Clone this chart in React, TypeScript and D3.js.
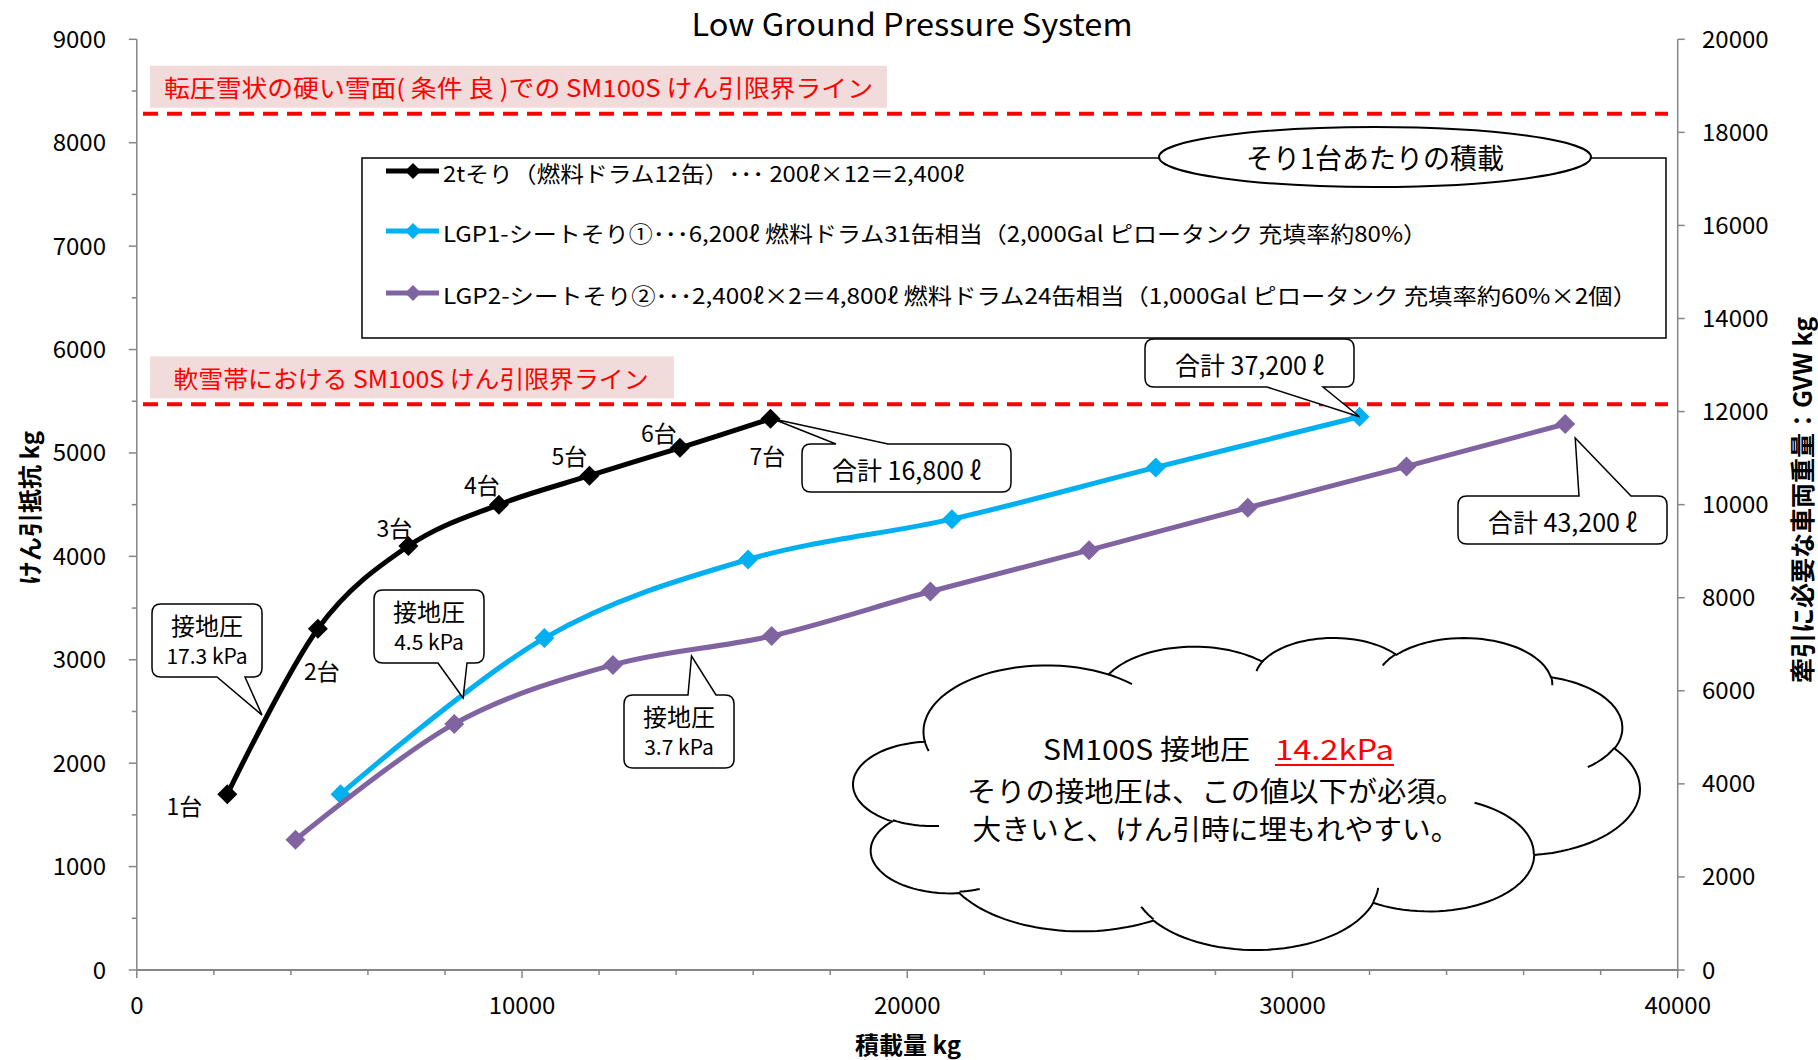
import React from "react";
import * as d3 from "d3";

// ---------- data ----------
const X_TICKS = [0, 10000, 20000, 30000, 40000];
const Y_TICKS = [0, 1000, 2000, 3000, 4000, 5000, 6000, 7000, 8000, 9000];
const Y2_TICKS = [0, 2000, 4000, 6000, 8000, 10000, 12000, 14000, 16000, 18000, 20000];

const sled2tX = [2350, 4700, 7050, 9400, 11750, 14100, 16450];
const sled2tY = [1700, 3300, 4100, 4500, 4780, 5050, 5330];
const sled2tLabels = ["1台", "2台", "3台", "4台", "5台", "6台", "7台"];

const lgp1X = [5290, 10580, 15870, 21160, 26450, 31740];
const lgp1Y = [1700, 3210, 3970, 4360, 4860, 5350];

const lgp2X = [4120, 8240, 12360, 16480, 20600, 24720, 28840, 32960, 37080];
const lgp2Y = [1260, 2380, 2950, 3230, 3660, 4060, 4470, 4870, 5280];

const seriesNames = [
  "2tそり（燃料ドラム12缶）･･･ 200ℓ×12＝2,400ℓ",
  "LGP1-シートそり①･･･6,200ℓ  燃料ドラム31缶相当（2,000Gal ピロータンク 充填率約80%）",
  "LGP2-シートそり②･･･2,400ℓ×2＝4,800ℓ  燃料ドラム24缶相当（1,000Gal ピロータンク 充填率約60%×2個）",
];
const seriesColors = ["#000000", "#00B0F0", "#8064A2"];

const limitValues = [8280, 5470];
const limitLabels = [
  "転圧雪状の硬い雪面( 条件 良 )での SM100S けん引限界ライン",
  "軟雪帯における SM100S けん引限界ライン",
];

const pressureLabels = ["17.3 kPa", "4.5 kPa", "3.7 kPa"];
const pressureTips = [
  [3250, 2465],
  [8470, 2630],
  [14400, 3036],
];
const totalLabels = ["合計 16,800 ℓ", "合計 37,200 ℓ", "合計 43,200 ℓ"];

const cloudLines = ["SM100S 接地圧", "14.2kPa", "そりの接地圧は、この値以下が必須。", "大きいと、けん引時に埋もれやすい。"];

// ---------- styles / layout ----------
const FONT = "'Noto Sans CJK JP', 'Noto Sans', sans-serif";
const PLOT = { left: 136.8, right: 1677.7, top: 39.3, bottom: 970 };
const labelOffsets = [
  [-43, 21],
  [4, 51],
  [-14, -9],
  [-17, -11],
  [-20, -11],
  [-21, -6],
  [-3, 46],
];

// Excel cloud preset geometry (43200 x 43200 path space)
const CLOUD_START = [3900, 14370];
const CLOUD_ARCS = [
  [6753, 9190, -11429249, 7426832],
  [5333, 7267, -8646143, 5396714],
  [4365, 5945, -8748475, 5983381],
  [4857, 6595, -7859164, 7034504],
  [5333, 7273, -4722533, 6541615],
  [6775, 9220, -2776035, 7816140],
  [5785, 7867, 37501, 6842000],
  [6752, 9215, 1347096, 6910353],
  [7720, 10543, 3974558, 4542661],
  [4360, 5918, -16496525, 8804134],
  [4345, 5945, -14809710, 9151131],
];
const CLOUD_INNER = [
  [4693, 26177, 4345, 5945, 5204520, 1585770],
  [6928, 34899, 4360, 5918, 4416628, 686848],
  [16478, 39090, 6752, 9215, 8257449, 844866],
  [28827, 34751, 6752, 9215, 387196, 959901],
  [34129, 22954, 5785, 7867, -4217541, 4255042],
  [41798, 15354, 5333, 7273, 1819082, 1665090],
  [38324, 5426, 4857, 6595, -824660, 891534],
  [29078, 3952, 4857, 6595, -8950887, 1091722],
  [22141, 4720, 4365, 5945, -9809656, 1061181],
  [14000, 5192, 6753, 9190, -4002417, 739161],
  [4127, 15789, 6753, 9190, 9459261, 711490],
];

function traceArc(p: number[], wR: number, hR: number, stA: number, swA: number, n = 40) {
  const st = (stA / 60000) * (Math.PI / 180);
  const sw = (swA / 60000) * (Math.PI / 180);
  const par = (a: number) => Math.atan2(wR * Math.sin(a), hR * Math.cos(a));
  const t1 = par(st);
  const cx = p[0] - wR * Math.cos(t1);
  const cy = p[1] - hR * Math.sin(t1);
  const pts: number[][] = [];
  for (let i = 1; i <= n; i++) {
    const t = par(st + (sw * i) / n);
    pts.push([cx + wR * Math.cos(t), cy + hR * Math.sin(t)]);
  }
  return pts;
}

function buildCloud(box: { x0: number; y0: number; x1: number; y1: number }) {
  let p = CLOUD_START;
  const outline: number[][] = [p];
  CLOUD_ARCS.forEach(([wR, hR, st, sw]) => {
    const pts = traceArc(p, wR, hR, st, sw);
    outline.push(...pts);
    p = pts[pts.length - 1];
  });
  const inner = CLOUD_INNER.map(([mx, my, wR, hR, st, sw]) => [[mx, my], ...traceArc([mx, my], wR, hR, st, sw, 20)]);
  const xs = outline.map((q) => q[0]);
  const ys = outline.map((q) => q[1]);
  const bx0 = Math.min(...xs), bx1 = Math.max(...xs), by0 = Math.min(...ys), by1 = Math.max(...ys);
  const sx = (box.x1 - box.x0) / (bx1 - bx0);
  const sy = (box.y1 - box.y0) / (by1 - by0);
  const tr = (q: number[]) => `${(box.x0 + (q[0] - bx0) * sx).toFixed(1)},${(box.y0 + (q[1] - by0) * sy).toFixed(1)}`;
  const outlineD = "M" + outline.map(tr).join("L") + "Z";
  const innerD = inner.map((seg) => "M" + seg.map(tr).join("L")).join("");
  return { outlineD, innerD };
}

function calloutPath(x: number, y: number, w: number, h: number, r: number, side: "top" | "bottom", b1: number, b2: number, tip: number[]) {
  const top = side === "top" ? `H${b1}L${tip[0]},${tip[1]}L${b2},${y}` : "";
  const bot = side === "bottom" ? `H${b2}L${tip[0]},${tip[1]}L${b1},${y + h}` : "";
  return (
    `M${x + r},${y}${top}H${x + w - r}Q${x + w},${y} ${x + w},${y + r}V${y + h - r}Q${x + w},${y + h} ${x + w - r},${y + h}` +
    `${bot}H${x + r}Q${x},${y + h} ${x},${y + h - r}V${y + r}Q${x},${y} ${x + r},${y}Z`
  );
}

const diamond = (s: number) => `M0,${-s}L${s},0L0,${s}L${-s},0Z`;

export default function App() {
  const x = d3.scaleLinear().domain([0, 40000]).range([PLOT.left, PLOT.right]);
  const y = d3.scaleLinear().domain([0, 9000]).range([PLOT.bottom, PLOT.top]);
  const y2 = d3.scaleLinear().domain([0, 20000]).range([PLOT.bottom, PLOT.top]);
  const line = d3
    .line<number[]>()
    .x((d) => x(d[0]))
    .y((d) => y(d[1]))
    .curve(d3.curveCardinal.tension(0));

  const series = [
    { xs: sled2tX, ys: sled2tY },
    { xs: lgp1X, ys: lgp1Y },
    { xs: lgp2X, ys: lgp2Y },
  ].map((s, i) => ({ pts: s.xs.map((v, j) => [v, s.ys[j]]), color: seriesColors[i], name: seriesNames[i] }));

  const yMinor = d3.range(0, 9001, 500);
  const xMinor = d3.range(0, 40001, 2000);
  const cloud = buildCloud({ x0: 853, y0: 638, x1: 1640, y1: 950 });

  // callouts
  const p7 = [x(sled2tX[6]), y(sled2tY[6])];
  const c1last = [x(lgp1X[lgp1X.length - 1]), y(lgp1Y[lgp1Y.length - 1])];
  const c2last = [x(lgp2X[lgp2X.length - 1]), y(lgp2Y[lgp2Y.length - 1])];
  const tipPx = pressureTips.map((t) => [x(t[0]), y(t[1])]);

  const pressureBoxes = [
    { bx: 152, by: 604, side: "bottom" as const, b1: 217, b2: 245, tip: tipPx[0] },
    { bx: 374, by: 590, side: "bottom" as const, b1: 438, b2: 467, tip: tipPx[1] },
    { bx: 624, by: 695, side: "top" as const, b1: 688, b2: 716, tip: tipPx[2] },
  ];
  const totalBoxes = [
    { bx: 802, by: 444, side: "top" as const, b1: 836, b2: 888, tip: [p7[0] + 2, p7[1]] },
    { bx: 1145, by: 339, side: "bottom" as const, b1: 1267, b2: 1323, tip: c1last },
    { bx: 1458, by: 496, side: "top" as const, b1: 1579, b2: 1631, tip: [c2last[0] + 10, c2last[1] + 14] },
  ];

  const axisColor = "#868686";

  return (
    <svg width={1818} height={1060} style={{ position: "absolute", left: 0, top: 0, background: "#fff" }} fontFamily={FONT}>
      <rect width={1818} height={1060} fill="#fff" />
      {/* title */}
      <text x={912} y={36} textAnchor="middle" fontSize={31} fill="#000" textLength={441} lengthAdjust="spacingAndGlyphs">
        Low Ground Pressure System
      </text>

      {/* axes */}
      <line x1={PLOT.left} x2={PLOT.left} y1={PLOT.top} y2={PLOT.bottom} stroke={axisColor} strokeWidth={1.5} />
      <line x1={PLOT.right} x2={PLOT.right} y1={PLOT.top} y2={PLOT.bottom} stroke={axisColor} strokeWidth={1.5} />
      <line x1={PLOT.left} x2={PLOT.right} y1={PLOT.bottom} y2={PLOT.bottom} stroke={axisColor} strokeWidth={2} />
      {yMinor.map((v) => (
        <line key={"ym" + v} x1={PLOT.left - (v % 1000 === 0 ? 8 : 5)} x2={PLOT.left} y1={y(v)} y2={y(v)} stroke={axisColor} strokeWidth={1.5} />
      ))}
      {Y_TICKS.map((v) => (
        <text key={"yt" + v} x={106} y={y(v) + 8.5} textAnchor="end" fontSize={24} fill="#000">
          {v}
        </text>
      ))}
      {Y2_TICKS.map((v) => (
        <g key={"y2" + v}>
          <line x1={PLOT.right} x2={PLOT.right + 7} y1={y2(v)} y2={y2(v)} stroke={axisColor} strokeWidth={1.5} />
          <text x={1702} y={y2(v) + 8.5} textAnchor="start" fontSize={24} fill="#000">
            {v}
          </text>
        </g>
      ))}
      {xMinor.map((v) => (
        <line key={"xm" + v} x1={x(v)} x2={x(v)} y1={PLOT.bottom} y2={PLOT.bottom + (v % 10000 === 0 ? 8 : 5)} stroke={axisColor} strokeWidth={1.5} />
      ))}
      {X_TICKS.map((v) => (
        <text key={"xt" + v} x={x(v)} y={1014} textAnchor="middle" fontSize={24} fill="#000">
          {v}
        </text>
      ))}
      <text x={908} y={1054} textAnchor="middle" fontSize={24} fontWeight="bold" fill="#000">
        積載量 kg
      </text>
      <text transform="translate(39,508) rotate(-90)" textAnchor="middle" fontSize={24} fontWeight="bold" fill="#000">
        けん引抵抗 kg
      </text>
      <text transform="translate(1812,500) rotate(-90)" textAnchor="middle" fontSize={25} fontWeight="bold" fill="#000">
        牽引に必要な車両重量：GVW kg
      </text>

      {/* limit lines */}
      {limitValues.map((v, i) => (
        <g key={"lim" + i}>
          <rect x={150} y={y(v) - 48} width={i === 0 ? 737 : 524} height={42} fill="#F2DCDB" />
          <text
            x={i === 0 ? 518.5 : 411}
            y={y(v) - 27}
            textAnchor="middle"
            dominantBaseline="central"
            fontSize={24}
            fill="#FF0000"
            textLength={i === 0 ? 709 : 475}
            lengthAdjust="spacingAndGlyphs"
          >
            {limitLabels[i]}
          </text>
          <line x1={143} x2={1668} y1={y(v)} y2={y(v)} stroke="#FF0000" strokeWidth={4} strokeDasharray="15 9" />
        </g>
      ))}

      {/* legend */}
      <rect x={362} y={158} width={1304} height={180} fill="#fff" stroke="#000" strokeWidth={1.5} />
      {series.map((s, i) => {
        const ly = [171, 231, 293][i];
        return (
          <g key={"lg" + i}>
            <line x1={386} x2={439} y1={ly} y2={ly} stroke={s.color} strokeWidth={5} />
            <path d={diamond(8)} transform={`translate(413,${ly})`} fill={s.color} />
            <text
              x={443}
              y={ly + 1}
              dominantBaseline="central"
              fontSize={22}
              fill="#000"
              textLength={[521, 984, 1194][i]}
              lengthAdjust="spacingAndGlyphs"
            >
              {s.name}
            </text>
          </g>
        );
      })}
      <ellipse cx={1375} cy={157} rx={216} ry={30} fill="#fff" stroke="#000" strokeWidth={2} />
      <text x={1375} y={157} textAnchor="middle" dominantBaseline="central" fontSize={28} fill="#000" textLength={258} lengthAdjust="spacingAndGlyphs">
        そり1台あたりの積載
      </text>

      {/* series */}
      {series.map((s, i) => (
        <g key={"s" + i}>
          <path d={line(s.pts) || ""} fill="none" stroke={s.color} strokeWidth={5} />
          {s.pts.map((p, j) => (
            <path key={j} d={diamond(10)} transform={`translate(${x(p[0])},${y(p[1])})`} fill={s.color} />
          ))}
        </g>
      ))}
      {sled2tX.map((v, j) => (
        <text key={"dl" + j} x={x(v) + labelOffsets[j][0]} y={y(sled2tY[j]) + labelOffsets[j][1]} textAnchor="middle" fontSize={23} fill="#000">
          {sled2tLabels[j]}
        </text>
      ))}

      {/* pressure callouts */}
      {pressureBoxes.map((b, i) => (
        <g key={"pc" + i}>
          <path d={calloutPath(b.bx, b.by, 110, 73, 9, b.side, b.b1, b.b2, b.tip)} fill="#fff" stroke="#000" strokeWidth={1.5} />
          <text x={b.bx + 55} y={b.by + 31} textAnchor="middle" fontSize={24} fill="#000">
            接地圧
          </text>
          <text x={b.bx + 55} y={b.by + 60} textAnchor="middle" fontSize={21} fill="#000">
            {pressureLabels[i]}
          </text>
        </g>
      ))}
      {totalBoxes.map((b, i) => (
        <g key={"tc" + i}>
          <path d={calloutPath(b.bx, b.by, 209, 48, 9, b.side, b.b1, b.b2, b.tip)} fill="#fff" stroke="#000" strokeWidth={1.5} />
          <text x={b.bx + 104.5} y={b.by + 25} textAnchor="middle" dominantBaseline="central" fontSize={25} fill="#000">
            {totalLabels[i]}
          </text>
        </g>
      ))}

      {/* cloud */}
      <path d={cloud.outlineD} fill="#fff" stroke="#000" strokeWidth={2} />
      <path d={cloud.innerD} fill="none" stroke="#000" strokeWidth={2} />
      <text x={1043} y={760} fontSize={28} fill="#000" textLength={207} lengthAdjust="spacingAndGlyphs">
        {cloudLines[0]}
      </text>
      <text x={1275} y={760} fontSize={28} fill="#FF0000" textLength={119} lengthAdjust="spacingAndGlyphs">
        {cloudLines[1]}
      </text>
      <line x1={1275} x2={1394} y1={765} y2={765} stroke="#FF0000" strokeWidth={2} />
      <text x={1216} y={802} textAnchor="middle" fontSize={28} fill="#000" textLength={498} lengthAdjust="spacingAndGlyphs">
        {cloudLines[2]}
      </text>
      <text x={1216} y={840} textAnchor="middle" fontSize={28} fill="#000" textLength={487} lengthAdjust="spacingAndGlyphs">
        {cloudLines[3]}
      </text>
    </svg>
  );
}
